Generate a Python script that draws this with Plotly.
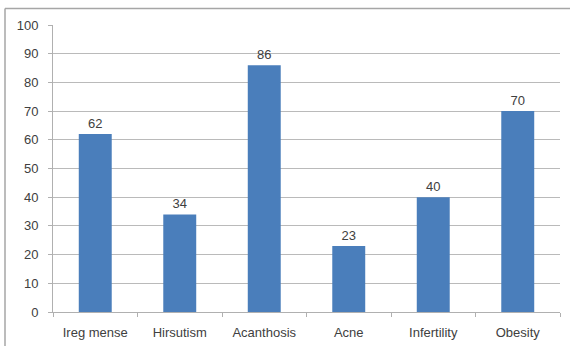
import plotly.graph_objects as go

categories = ["Ireg mense", "Hirsutism", "Acanthosis", "Acne", "Infertility", "Obesity"]
values = [62, 34, 86, 23, 40, 70]
y_ticks = [0, 10, 20, 30, 40, 50, 60, 70, 80, 90, 100]

W, H = 570, 346
L, R, T, B = 53, 10, 25, 34
pw, ph = W - L - R, H - T - B

def px_to_paper_x(px):
    return (px - L) / pw

def px_to_paper_y(py):
    return (H - B - py) / ph

text_color = "#404040"
font_family = "Liberation Sans, Arial, sans-serif"
frame_style = dict(color="#A6A6A6", width=1.5)

fig = go.Figure(
    go.Bar(
        x=categories,
        y=values,
        marker=dict(color="#4A7EBB", line=dict(width=0)),
        text=[str(v) for v in values],
        textposition="outside",
        textfont=dict(size=13, color=text_color, family=font_family),
        cliponaxis=False,
    )
)

# Chart frame: only its left and top edges fall inside the page
frame_left = dict(
    type="line", xref="paper", yref="paper",
    x0=px_to_paper_x(5), x1=px_to_paper_x(5),
    y0=px_to_paper_y(H + 5), y1=px_to_paper_y(8.5),
    line=frame_style, layer="below",
)
frame_top = dict(
    type="line", xref="paper", yref="paper",
    x0=px_to_paper_x(5), x1=px_to_paper_x(W + 5),
    y0=px_to_paper_y(8.5), y1=px_to_paper_y(8.5),
    line=frame_style, layer="below",
)

fig.update_layout(
    width=W,
    height=H,
    margin=dict(l=L, r=R, t=T, b=B, pad=0, autoexpand=False),
    paper_bgcolor="white",
    plot_bgcolor="white",
    bargap=0.61,
    showlegend=False,
    font=dict(family=font_family, size=13, color=text_color),
    shapes=[frame_left, frame_top],
)

fig.update_xaxes(
    type="category",
    automargin=False,
    showgrid=False,
    showline=True,
    linecolor="#B0B0B0",
    linewidth=1,
    ticks="outside",
    tickson="boundaries",
    ticklen=4,
    tickcolor="#B0B0B0",
    ticklabelstandoff=8,
    tickfont=dict(size=13, color=text_color),
)

fig.update_yaxes(
    range=[0, 100],
    tickvals=y_ticks,
    automargin=False,
    showgrid=True,
    gridcolor="#BABABA",
    gridwidth=1,
    showline=True,
    linecolor="#B0B0B0",
    linewidth=1,
    ticks="outside",
    ticklen=4,
    tickcolor="#B0B0B0",
    ticklabelstandoff=7,
    tickfont=dict(size=13, color=text_color),
    zeroline=False,
)

fig.write_html("out.html")
